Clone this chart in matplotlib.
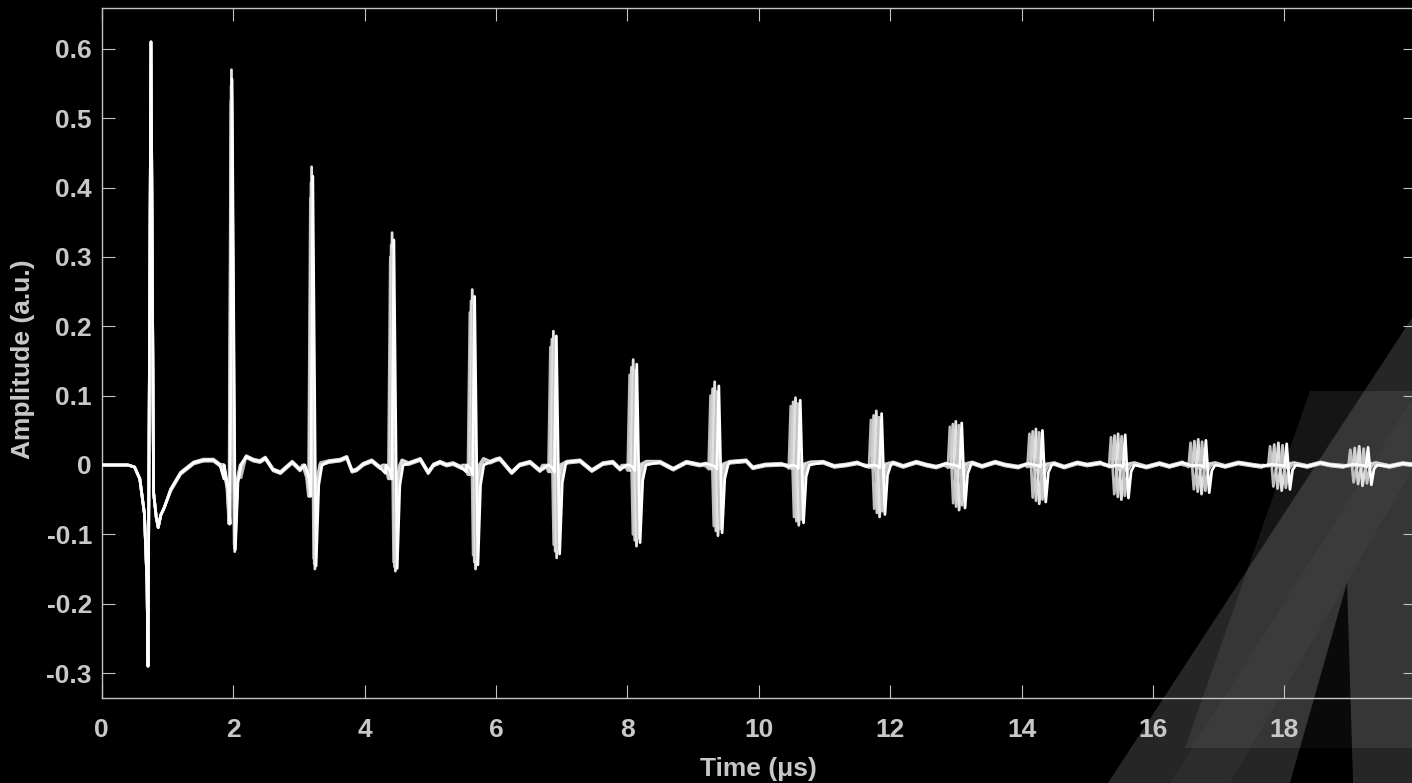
import matplotlib
matplotlib.use("Agg")
import matplotlib.pyplot as plt
from matplotlib.patches import Polygon
import numpy as np

# ---- data -----------------------------------------------------------------
# Common part of the waveform (first echo and the baseline between echoes), µs / a.u.
wave_t = [0.00, 0.40, 0.50, 0.58, 0.65, 0.69, 0.705, 0.75, 0.79, 0.83, 0.86,
          0.90, 0.95, 1.05, 1.20, 1.40, 1.55, 1.70, 1.80, 1.86,
          2.12, 2.20, 2.31, 2.41, 2.49, 2.61, 2.72, 2.90, 3.02, 3.10,
          3.33, 3.46, 3.63, 3.73, 3.81, 3.88, 3.98, 4.11, 4.24, 4.32,
          4.57, 4.67, 4.85, 4.97, 5.05, 5.15, 5.25, 5.35, 5.48, 5.55,
          5.81, 5.91, 6.01, 6.06, 6.24, 6.36, 6.52, 6.67, 6.77,
          7.08, 7.28, 7.46, 7.63, 7.78, 7.89, 8.00,
          8.29, 8.50, 8.70, 8.90, 9.10, 9.20,
          9.56, 9.81, 9.91, 10.10, 10.35, 10.45,
          10.78, 10.98, 11.15, 11.33, 11.50, 11.64,
          12.05, 12.20, 12.40, 12.55, 12.70, 12.85,
          13.25, 13.40, 13.60, 13.75, 13.95, 14.10,
          14.50, 14.65, 14.85, 15.00, 15.20, 15.35,
          15.72, 15.90, 16.10, 16.25, 16.45, 16.60,
          16.95, 17.10, 17.30, 17.50, 17.65, 17.80,
          18.15, 18.35, 18.55, 18.70, 18.90, 19.05,
          19.40, 19.60, 19.80, 20.00]
wave_y = [0.000, 0.000, -0.003, -0.020, -0.070, -0.170, -0.290, 0.610, -0.040, -0.075, -0.090,
          -0.072, -0.062, -0.036, -0.012, 0.003, 0.007, 0.007, 0.000, -0.020,
          -0.020, 0.012, 0.007, 0.005, 0.010, -0.007, -0.011, 0.004, -0.007, -0.020,
          0.002, 0.005, 0.007, 0.011, -0.009, -0.007, 0.001, 0.006, -0.004, -0.012,
          0.006, 0.002, 0.008, -0.011, 0.000, 0.004, 0.000, 0.002, -0.004, -0.010,
          0.008, 0.004, 0.008, 0.009, -0.011, 0.000, 0.004, -0.008, -0.002,
          0.004, 0.006, -0.008, 0.002, 0.004, -0.006, 0.000,
          0.004, 0.004, -0.006, 0.004, 0.000, 0.002,
          0.004, 0.006, -0.004, 0.000, 0.001, -0.002,
          0.003, 0.004, -0.002, 0.000, 0.003, -0.002,
          0.003, -0.002, 0.004, 0.000, -0.003, 0.002,
          0.003, -0.002, 0.004, 0.000, -0.003, 0.002,
          0.002, -0.003, 0.003, 0.000, 0.003, -0.002,
          0.002, -0.003, 0.002, -0.002, 0.003, -0.001,
          0.002, -0.002, 0.003, 0.000, -0.002, 0.001,
          0.002, -0.002, 0.003, 0.000, -0.002, 0.001,
          0.002, -0.002, 0.002, 0.000]

# Echoes 2..16: arrival time, pre-lobe, peak range and trough range over the traces
echo_time = [1.975, 3.195, 4.42, 5.64, 6.875, 8.09, 9.33, 10.56, 11.79,
             13.00, 14.22, 15.47, 16.69, 17.91, 19.14]
echo_pre = [-0.085, -0.045, -0.020, -0.014, -0.010, -0.008, -0.006, -0.005,
            -0.004, -0.004, -0.003, -0.003, -0.003, -0.002, -0.002]
peak_hi = [0.570, 0.430, 0.335, 0.253, 0.193, 0.152, 0.120, 0.097, 0.078,
           0.063, 0.052, 0.045, 0.037, 0.032, 0.027]
peak_lo = [0.525, 0.385, 0.300, 0.220, 0.170, 0.130, 0.100, 0.085, 0.065,
           0.055, 0.045, 0.040, 0.032, 0.027, 0.022]
trough_hi = [-0.125, -0.150, -0.153, -0.150, -0.134, -0.117, -0.102, -0.087,
             -0.075, -0.065, -0.056, -0.050, -0.042, -0.037, -0.030]
trough_lo = [-0.115, -0.135, -0.140, -0.130, -0.115, -0.100, -0.088, -0.075,
             -0.063, -0.055, -0.047, -0.042, -0.035, -0.031, -0.025]

# Five repeated acquisitions: per-echo timing drift (µs), amplitude position, baseline offset
trace_drift = [-0.009, -0.0045, 0.0, 0.0045, 0.009]
trace_level = [0.0, 0.5, 1.0, 0.3, 0.7]
trace_offset = [0.0015, -0.0015, 0.0008, -0.0008, 0.0]
trace_color = ["#bdbdbd", "#cfcfcf", "#e2e2e2", "#c6c6c6", "#ffffff"]

xticks = [0, 2, 4, 6, 8, 10, 12, 14, 16, 18]
yticks = [-0.3, -0.2, -0.1, 0.0, 0.1, 0.2, 0.3, 0.4, 0.5, 0.6]
ytick_labels = ["-0.3", "-0.2", "-0.1", "0", "0.1", "0.2", "0.3", "0.4", "0.5", "0.6"]

# ---- figure ---------------------------------------------------------------
W, H = 1412, 783
plt.rcParams["font.family"] = ["Liberation Sans", "DejaVu Sans"]
plt.rcParams["axes.unicode_minus"] = False
fig = plt.figure(figsize=(W / 100, H / 100), dpi=100, facecolor="black")


def px(x, y):
    return (x / W, 1 - y / H)


# translucent logo in the lower-right corner
logo_parts = [
    ([(1108, 783), (1412, 318), (1412, 783), (1353, 783), (1347, 583), (1290, 783)], "#8c8c8c", 0.28),
    ([(1310, 391), (1412, 391), (1412, 748), (1185, 748)], "#9a9a9a", 0.14),
    ([(1170, 783), (1412, 400), (1412, 470), (1230, 783)], "#a0a0a0", 0.05),
    ([(1290, 783), (1347, 583), (1353, 783)], "#000000", 0.5),
]
for verts, col, a in logo_parts:
    fig.patches.append(Polygon([px(*v) for v in verts], closed=True,
                               transform=fig.transFigure, facecolor=col,
                               edgecolor="none", alpha=a, zorder=-5))

ax = fig.add_axes([101.7 / W, (H - 698) / H, 1314 / W, 690 / H])
ax.set_facecolor("none")

win_lo, win_hi = 0.12, 0.15
rel_t = [-0.12, -0.06, -0.03, 0.0, 0.05, 0.09, 0.14]
wave_t_arr = np.array(wave_t)
wave_y_arr = np.array(wave_y)
for k in range(len(trace_drift)):
    f = trace_level[k]
    centres = [echo_time[n] + trace_drift[k] * (n + 1) for n in range(len(echo_time))]
    keep = np.ones(len(wave_t_arr), dtype=bool)
    for c in centres:
        keep &= ~((wave_t_arr > c - win_lo) & (wave_t_arr < c + win_hi))
    ts = list(wave_t_arr[keep])
    ys = list(wave_y_arr[keep] + np.where(wave_t_arr[keep] > 1.0, trace_offset[k], 0.0))
    for n, c in enumerate(centres):
        pk = peak_lo[n] + (peak_hi[n] - peak_lo[n]) * f
        tr = trough_lo[n] + (trough_hi[n] - trough_lo[n]) * f
        pre = echo_pre[n]
        vals = [0.0, 0.4 * pre, pre, pk, tr, 0.2 * tr, 0.0]
        ts += [c + r for r in rel_t]
        ys += vals
    order = np.argsort(ts)
    ax.plot(np.array(ts)[order], np.array(ys)[order], color=trace_color[k],
            lw=2.0, solid_joinstyle="round", zorder=3 + k)

ax.set_xlim(0, 20)
ax.set_ylim(-0.336, 0.659)
ax.set_xticks(xticks)
ax.set_yticks(yticks)
ax.set_yticklabels(ytick_labels)

axis_col = "#c4c4c4"
for s in ax.spines.values():
    s.set_color(axis_col)
    s.set_linewidth(1.0)
ax.tick_params(direction="in", length=9.5, width=0.8, color=axis_col,
               top=True, right=True, labelcolor="#c8c8c8", labelsize=19)
ax.tick_params(axis="x", pad=14.5)
ax.tick_params(axis="y", pad=7)
for lab in ax.get_xticklabels() + ax.get_yticklabels():
    lab.set_fontweight("bold")

ax.set_xlabel("Time (μs)", color="#c8c8c8", fontsize=19, fontweight="bold", labelpad=11)
ax.set_ylabel("Amplitude (a.u.)", color="#c8c8c8", fontsize=19, fontweight="bold")
ax.yaxis.set_label_coords(-0.0508, 0.491)

fig.savefig("out.png", dpi=100, facecolor="black")
